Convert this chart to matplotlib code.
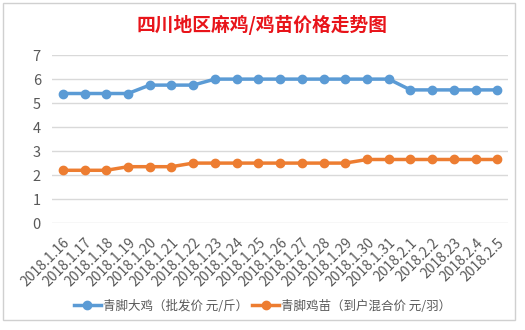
import matplotlib
matplotlib.use("Agg")
from matplotlib import pyplot as plt
from matplotlib.patches import Rectangle

plt.rcParams['font.family'] = ['Noto Sans CJK SC', 'DejaVu Sans']

dates = ["2018.1.16", "2018.1.17", "2018.1.18", "2018.1.19", "2018.1.20",
         "2018.1.21", "2018.1.22", "2018.1.23", "2018.1.24", "2018.1.25",
         "2018.1.26", "2018.1.27", "2018.1.28", "2018.1.29", "2018.1.30",
         "2018.1.31", "2018.2.1", "2018.2.2", "2018.23", "2018.2.4", "2018.2.5"]
big_chicken = [5.4, 5.4, 5.4, 5.4, 5.75, 5.75, 5.75, 6, 6, 6, 6, 6, 6, 6, 6, 6,
               5.55, 5.55, 5.55, 5.55, 5.55]
chick = [2.2, 2.2, 2.2, 2.35, 2.35, 2.35, 2.5, 2.5, 2.5, 2.5, 2.5, 2.5, 2.5, 2.5,
         2.65, 2.65, 2.65, 2.65, 2.65, 2.65, 2.65]
series_names = ["青脚大鸡（批发价 元/斤）", "青脚鸡苗（到户混合价 元/羽）"]
title = "四川地区麻鸡/鸡苗价格走势图"

fig = plt.figure(figsize=(5.25, 3.3), dpi=100)
fig.patches.append(Rectangle((0.006, 0.03), 0.975, 0.96, transform=fig.transFigure,
                             fill=False, edgecolor="#d0d0d0", linewidth=1))
ax = fig.add_axes([0.099, 0.324, 0.869, 0.509])

x = list(range(len(dates)))
ax.plot(x, big_chicken, color="#5B9BD5", linewidth=2.5, marker="o", markersize=6,
        label=series_names[0])
ax.plot(x, chick, color="#ED7D31", linewidth=2.5, marker="o", markersize=6,
        label=series_names[1])

ax.set_xlim(-0.5, len(dates) - 0.5)
ax.set_ylim(0, 7)
ax.set_yticks(range(0, 8))
ax.yaxis.grid(True, color="#d9d9d9", linewidth=1)
ax.set_axisbelow(True)
for s in ax.spines.values():
    s.set_visible(False)
ax.tick_params(axis="both", length=0, colors="#595959")
ax.tick_params(axis="y", labelsize=10.5, pad=8)
ax.set_xticks(x)
ax.set_xticklabels(dates, rotation=45, ha="right", rotation_mode="anchor", fontsize=10)
ax.tick_params(axis="x", pad=9)

fig.text(0.5, 0.925, title, ha="center", va="center", color="#e8141a",
         fontsize=13.5, fontweight="bold")
fig.legend(loc="center", bbox_to_anchor=(0.5, 0.072), ncol=2, frameon=False,
           fontsize=9, handlelength=2.2, columnspacing=0.3, handletextpad=0.15,
           labelcolor="#595959")

fig.savefig("out.png", dpi=100, facecolor="white")
